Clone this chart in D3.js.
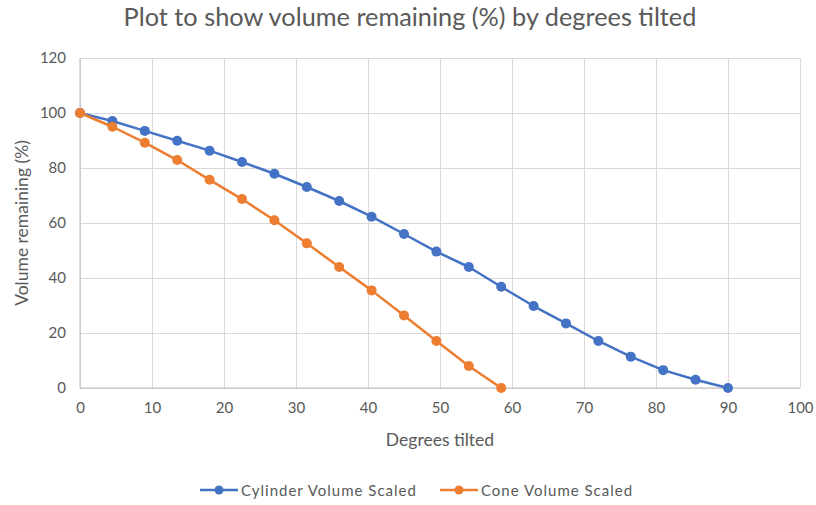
<!DOCTYPE html>
<html>
<head>
<meta charset="utf-8">
<script src="https://cdn.jsdelivr.net/npm/d3@7/dist/d3.min.js"></script>
<style>
  html, body { margin: 0; padding: 0; background: #fff; }
  svg { display: block; font-family: Lato, "Open Sans", sans-serif; }
</style>
</head>
<body>
<svg id="chart" width="816" height="505"></svg>
<script>
// Tilt angles (degrees) at which each volume was sampled
const cylinderDegrees = [0, 4.5, 9, 13.5, 18, 22.5, 27, 31.5, 36, 40.5, 45, 49.5, 54, 58.5, 63, 67.5, 72, 76.5, 81, 85.5, 90];
const cylinderVolume = [100, 97.1, 93.5, 89.9, 86.3, 82.2, 77.9, 73.1, 68.0, 62.3, 56.0, 49.6, 44.0, 36.8, 29.8, 23.5, 17.1, 11.4, 6.5, 3.0, 0];

const coneDegrees = [0, 4.5, 9, 13.5, 18, 22.5, 27, 31.5, 36, 40.5, 45, 49.5, 54, 58.5];
const coneVolume = [100, 95.0, 89.2, 82.9, 75.7, 68.7, 61.0, 52.6, 44.0, 35.5, 26.4, 17.1, 8.0, 0];

const xTicks = [0, 10, 20, 30, 40, 50, 60, 70, 80, 90, 100];
const yTicks = [0, 20, 40, 60, 80, 100, 120];

const seriesNames = ["Cylinder Volume Scaled", "Cone Volume Scaled"];
const seriesColors = ["#4472C4", "#ED7D31"];

const series = [
  { name: seriesNames[0], color: seriesColors[0], points: cylinderDegrees.map((d, i) => [d, cylinderVolume[i]]) },
  { name: seriesNames[1], color: seriesColors[1], points: coneDegrees.map((d, i) => [d, coneVolume[i]]) }
];

const svg = d3.select("#chart");
const plot = { left: 80, right: 800, top: 58, bottom: 388 };

const x = d3.scaleLinear().domain([0, 100]).range([plot.left, plot.right]);
const y = d3.scaleLinear().domain([0, 120]).range([plot.bottom, plot.top]);

const textColor = "#595959";

// Title
svg.append("text")
  .attr("x", 410).attr("y", 26)
  .attr("text-anchor", "middle")
  .attr("fill", textColor)
  .style("font-size", "25.3px")
  .text("Plot to show volume remaining (%) by degrees tilted");

// Horizontal gridlines
svg.append("g")
  .attr("transform", `translate(${plot.left},0)`)
  .call(d3.axisLeft(y).tickValues(yTicks).tickSize(-(plot.right - plot.left)).tickFormat(""))
  .call(g => g.select(".domain").remove())
  .call(g => g.selectAll(".tick line").attr("stroke", "#D9D9D9").attr("stroke-width", 1));

// Vertical gridlines
svg.append("g")
  .attr("transform", `translate(0,${plot.bottom})`)
  .call(d3.axisBottom(x).tickValues(xTicks).tickSize(-(plot.bottom - plot.top)).tickFormat(""))
  .call(g => g.select(".domain").remove())
  .call(g => g.selectAll(".tick line").attr("stroke", "#D9D9D9").attr("stroke-width", 1));

// Axis lines
svg.append("line")
  .attr("x1", plot.left).attr("x2", plot.right)
  .attr("y1", plot.bottom).attr("y2", plot.bottom)
  .attr("stroke", "#BFBFBF").attr("stroke-width", 1);
svg.append("line")
  .attr("x1", plot.left).attr("x2", plot.left)
  .attr("y1", plot.top).attr("y2", plot.bottom)
  .attr("stroke", "#BFBFBF").attr("stroke-width", 1);

// Tick labels
const xAxis = svg.append("g")
  .attr("transform", `translate(0,${plot.bottom})`)
  .call(d3.axisBottom(x).tickValues(xTicks).tickSize(0).tickPadding(14));
xAxis.select(".domain").remove();
xAxis.selectAll("text").attr("fill", textColor).style("font-size", "15px").style("font-family", "Lato, sans-serif");

const yAxis = svg.append("g")
  .attr("transform", `translate(${plot.left},0)`)
  .call(d3.axisLeft(y).tickValues(yTicks).tickSize(0).tickPadding(14));
yAxis.select(".domain").remove();
yAxis.selectAll("text").attr("fill", textColor).style("font-size", "15px").style("font-family", "Lato, sans-serif");

// Axis titles
svg.append("text")
  .attr("x", (plot.left + plot.right) / 2).attr("y", 446)
  .attr("text-anchor", "middle")
  .attr("fill", textColor)
  .style("font-size", "17.5px")
  .text("Degrees tilted");

svg.append("text")
  .attr("transform", `translate(28,${(plot.top + plot.bottom) / 2}) rotate(-90)`)
  .attr("text-anchor", "middle")
  .attr("fill", textColor)
  .style("font-size", "17.5px")
  .text("Volume remaining (%)");

// Series: each line followed by its markers, later series drawn on top
const line = d3.line().x(d => x(d[0])).y(d => y(d[1]));

series.forEach(s => {
  const g = svg.append("g");
  g.append("path")
    .datum(s.points)
    .attr("d", line)
    .attr("fill", "none")
    .attr("stroke", s.color)
    .attr("stroke-width", 2.5)
    .attr("stroke-linejoin", "round");
  g.selectAll("circle")
    .data(s.points)
    .join("circle")
    .attr("cx", d => x(d[0]))
    .attr("cy", d => y(d[1]))
    .attr("r", 5)
    .attr("fill", s.color);
});

// Legend
const legendItems = [
  { name: seriesNames[0], color: seriesColors[0], x0: 200 },
  { name: seriesNames[1], color: seriesColors[1], x0: 440 }
];
const legendY = 490;
legendItems.forEach(it => {
  const g = svg.append("g");
  g.append("line")
    .attr("x1", it.x0).attr("x2", it.x0 + 38)
    .attr("y1", legendY).attr("y2", legendY)
    .attr("stroke", it.color).attr("stroke-width", 2.5);
  g.append("circle")
    .attr("cx", it.x0 + 19).attr("cy", legendY).attr("r", 4.5)
    .attr("fill", it.color);
  g.append("text")
    .attr("x", it.x0 + 41).attr("y", legendY + 5.5)
    .attr("fill", textColor)
    .style("font-size", "15px")
    .style("letter-spacing", "1px")
    .text(it.name);
});
</script>
</body>
</html>
